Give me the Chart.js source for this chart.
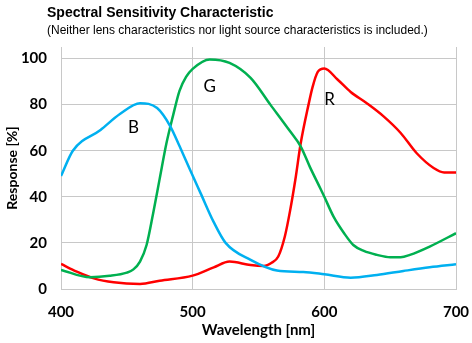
<!DOCTYPE html>
<html>
<head>
<meta charset="utf-8">
<script src="https://cdn.jsdelivr.net/npm/chart.js@4.4.1/dist/chart.umd.min.js"></script>
<style>
    html, body { margin: 0; padding: 0; background: #fff; }
    #wrap { position: relative; width: 472px; height: 343px; }
    #title { position: absolute; left: 47px; top: 4px; font: bold 14px "Liberation Sans", Arial, sans-serif; color: #000; }
    #subtitle { position: absolute; left: 47px; top: 23px; font: 12px "Liberation Sans", Arial, sans-serif; color: #000; }
</style>
</head>
<body>
<div id="wrap">
    <canvas id="spectralChart" width="472" height="343"></canvas>
    <div id="title">Spectral Sensitivity Characteristic</div>
    <div id="subtitle">(Neither lens characteristics nor light source characteristics is included.)</div>
</div>
<script>
// wavelength [nm] / response [%]
const blueNm  = [400, 409, 430, 445, 460, 473, 483, 490, 498, 506, 516, 525, 544, 564, 584, 600, 620, 640, 660, 680, 700];
const blueVal = [49, 60, 69, 76, 80.6, 78.5, 70.6, 62, 51.7, 41.6, 29, 20, 12.6, 8, 7.4, 6.4, 4.9, 6.1, 7.8, 9.4, 10.7];

const greenNm  = [400, 422, 437, 450, 455, 460, 465, 470, 475, 480, 485, 490, 495, 500, 513, 528, 544, 559, 574, 582, 589, 597, 600, 607, 615, 622, 630, 640, 650, 658, 665, 680, 700];
const greenVal = [8.3, 5.1, 5.7, 7.1, 8.5, 11.9, 19.1, 32.9, 48, 63, 75, 86, 92, 95.5, 99.6, 98.1, 91.6, 80, 68.4, 61.9, 53, 43.6, 40, 31.4, 24.2, 19.1, 16.5, 14.8, 13.8, 13.8, 14.8, 18.4, 24.2];

const redNm  = [400, 412, 425, 440, 460, 475, 500, 516, 528, 544, 554, 560, 565, 570, 574, 578, 582, 588, 591, 595, 600, 610, 620, 632, 645, 658, 670, 683, 691, 700];
const redVal = [10.9, 7.5, 4.6, 2.9, 2.2, 3.6, 5.8, 9.4, 11.9, 10.4, 10, 11.4, 14.1, 22.8, 34, 47.5, 63, 80, 87.5, 94.2, 95.7, 90.9, 85.5, 80.7, 74.9, 67.7, 59, 52.5, 50.6, 50.6];

// curve names written inside the plot
const curveNames = ['B', 'G', 'R'];
const curveNameNm = [455, 513, 604];
const curveNameVal = [70, 88, 82];

const xTicks = [400, 500, 600, 700];
const yTicks = [0, 20, 40, 60, 80, 100];

function toPoints(xs, ys) {
    return xs.map((x, i) => ({ x: x, y: ys[i] }));
}

const curveLabels = {
    id: 'curveLabels',
    afterDatasetsDraw(chart) {
        const ctx = chart.ctx;
        const xs = chart.scales.x;
        const ys = chart.scales.y;
        ctx.save();
        ctx.font = '17px Lato, sans-serif';
        ctx.fillStyle = '#000';
        ctx.textAlign = 'center';
        ctx.textBaseline = 'middle';
        curveNames.forEach((name, i) => {
            ctx.fillText(name, xs.getPixelForValue(curveNameNm[i]), ys.getPixelForValue(curveNameVal[i]));
        });
        ctx.restore();
    }
};

const lineStyle = {
    borderWidth: 2.5,
    pointRadius: 0,
    cubicInterpolationMode: 'monotone',
    fill: false
};

const ctx = document.getElementById('spectralChart').getContext('2d');
new Chart(ctx, {
    type: 'line',
    data: {
        datasets: [
            Object.assign({ label: 'B', data: toPoints(blueNm, blueVal), borderColor: '#00B0F0' }, lineStyle),
            Object.assign({ label: 'G', data: toPoints(greenNm, greenVal), borderColor: '#00B050' }, lineStyle),
            Object.assign({ label: 'R', data: toPoints(redNm, redVal), borderColor: '#FF0000' }, lineStyle)
        ]
    },
    options: {
        responsive: false,
        animation: false,
        layout: { padding: { top: 47, right: 0, left: 0, bottom: 0 } },
        plugins: {
            legend: { display: false },
            tooltip: { enabled: false }
        },
        scales: {
            x: {
                type: 'linear',
                min: 400,
                max: 700,
                afterBuildTicks: scale => { scale.ticks = xTicks.map(v => ({ value: v })); },
                afterFit: scale => { scale.height = 54; scale.paddingRight = 16; },
                grid: { color: '#c8c8c8', drawTicks: false },
                border: { color: '#c8c8c8' },
                ticks: {
                    padding: 14,
                    color: '#000',
                    font: { family: 'Lato', size: 15, weight: 'bold' }
                },
                title: {
                    display: true,
                    text: 'Wavelength [nm]',
                    color: '#000',
                    font: { family: 'Lato', size: 15, weight: 'bold' },
                    padding: { top: 2 }
                }
            },
            y: {
                min: 0,
                max: 105,
                afterBuildTicks: scale => { scale.ticks = yTicks.map(v => ({ value: v })); },
                afterFit: scale => { scale.width = 61; },
                grid: { color: '#c8c8c8', drawTicks: false },
                border: { color: '#c8c8c8' },
                ticks: {
                    padding: 14,
                    color: '#000',
                    font: { family: 'Lato', size: 15, weight: 'bold' }
                },
                title: {
                    display: true,
                    text: 'Response [%]',
                    color: '#000',
                    font: { family: 'Lato', size: 14, weight: 'bold' },
                    padding: { bottom: 0 }
                }
            }
        }
    },
    plugins: [curveLabels]
});
</script>
</body>
</html>
